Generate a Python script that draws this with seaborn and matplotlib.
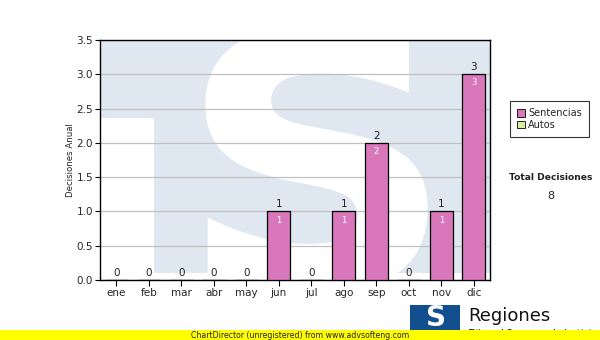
import matplotlib
matplotlib.use("Agg")
import matplotlib.pyplot as plt
import seaborn as sns
import pandas as pd
from matplotlib.textpath import TextPath
from matplotlib.font_manager import FontProperties
from matplotlib.patches import PathPatch, Rectangle, Patch
from matplotlib.transforms import Affine2D

months = ["ene", "feb", "mar", "abr", "may", "jun", "jul", "ago", "sep", "oct", "nov", "dic"]
sentencias = [0, 0, 0, 0, 0, 1, 0, 1, 2, 0, 1, 3]
legend_labels = ["Sentencias", "Autos"]
y_label = "Decisiones Anual"

sns.set_theme(style="white")
plt.rcParams['font.family'] = ['DejaVu Sans']

BAR = "#d878bb"
WM = "#dfe8f1"

fig = plt.figure(figsize=(6, 3.4), dpi=100)
ax = fig.add_axes([100/600, 60/340, 390/600, 240/340])

df = pd.DataFrame({"mes": months, "valor": sentencias})
sns.barplot(data=df, x="mes", y="valor", color=BAR, saturation=1, width=0.71,
            edgecolor="black", linewidth=0.9, ax=ax, zorder=3)

ax.set_ylim(0, 3.5)
ax.set_xlim(-0.5, 11.5)
ax.set_yticks([i * 0.5 for i in range(8)])
ax.set_yticklabels([f"{i*0.5:.1f}" for i in range(8)], fontsize=7.5)
ax.set_xticks(range(len(months)))
ax.set_xticklabels(months, fontsize=7.5)
ax.set_xlabel("")
ax.set_ylabel(y_label, fontsize=6.2, labelpad=1)
ax.tick_params(axis="y", length=3.5, width=0.8, color="black",
               direction="out", pad=1.5, left=True)
ax.tick_params(axis="x", length=4, width=0.8, color="black",
               direction="out", pad=2, bottom=True)
ax.grid(axis="y", color="#c0c0c0", linewidth=0.9, zorder=1)
ax.set_axisbelow(True)
for s in ax.spines.values():
    s.set_color("black")
    s.set_linewidth(1.0)

# watermark (light TS logo)
ax.add_patch(Rectangle((0, 0.675), 1, 0.325, transform=ax.transAxes,
                       facecolor=WM, edgecolor="none", zorder=0))
ax.add_patch(Rectangle((0.138, 0.029), 0.862, 0.646, transform=ax.transAxes,
                       facecolor=WM, edgecolor="none", zorder=0))
fp = FontProperties(family="DejaVu Sans", weight="bold")
tp = TextPath((0, 0), "S", prop=fp, size=1)
ext = tp.get_extents()
x0, x1, y0, y1 = 0.27, 0.84, -0.05, 1.06
tr = (Affine2D().translate(-ext.x0, -ext.y0)
      .scale((x1 - x0) / ext.width, (y1 - y0) / ext.height)
      .translate(x0, y0))
spath = tr.transform_path(tp)
sp = PathPatch(spath, facecolor="white", edgecolor="none", transform=ax.transAxes,
               zorder=0.5, clip_on=True)
ax.add_patch(sp)

# value labels
for p, v in zip(ax.patches, sentencias):
    cx = p.get_x() + p.get_width() / 2
    ax.text(cx, p.get_height() + 0.03, f"{v}", ha="center", va="bottom",
            fontsize=7.5, color="#222222", zorder=5)
    if v > 0:
        ax.text(cx, p.get_height() - 0.06, f"{v}", ha="center", va="top",
                fontsize=6, color="white", zorder=5)

# legend box
handles = [Patch(facecolor=BAR, edgecolor="black", linewidth=0.6),
           Patch(facecolor="#d8eea0", edgecolor="black", linewidth=0.6)]
leg = fig.legend(handles, legend_labels, loc="upper left",
                 bbox_to_anchor=(510/600, 1 - 101/340), fontsize=7,
                 frameon=True, fancybox=False, handlelength=0.8, handleheight=0.8,
                 handletextpad=0.3, borderpad=0.75, labelspacing=0.15,
                 borderaxespad=0)
leg.get_frame().set_edgecolor("black")
leg.get_frame().set_linewidth(0.8)

fig.text(551/600, 1 - 177/340, "Total Decisiones", ha="center", va="center",
         fontsize=6.6, fontweight="bold", color="#222222")
fig.text(551/600, 1 - 196/340, f"{sum(sentencias)}", ha="center", va="center",
         fontsize=8, color="#222222")

# logo
fig.patches.append(Rectangle((410/600, 1 - 331/340), 50/600, 26/340,
                             transform=fig.transFigure, facecolor="#114f8f",
                             edgecolor="none", zorder=1))
fig.text(436/600, 1 - 318/340, "S", ha="center", va="center", fontsize=20,
         fontweight="bold", color="white", zorder=2)
fig.text(468/600, 1 - 316/340, "Regiones", ha="left", va="center", fontsize=13,
         color="#111111", zorder=2)
fig.text(468/600, 1 - 333/340, "Tribunal Supremo de Justicia", ha="left",
         va="center", fontsize=6.5, color="#111111", zorder=2)

# yellow unregistered bar
fig.patches.append(Rectangle((0, 0), 1, 10/340, transform=fig.transFigure,
                             facecolor="#ffff00", edgecolor="none", zorder=10))
fig.text(0.5, 5/340, "ChartDirector (unregistered) from www.advsofteng.com",
         ha="center", va="center", fontsize=5.6, color="#222222", zorder=11)

fig.savefig("out.png", dpi=100)
